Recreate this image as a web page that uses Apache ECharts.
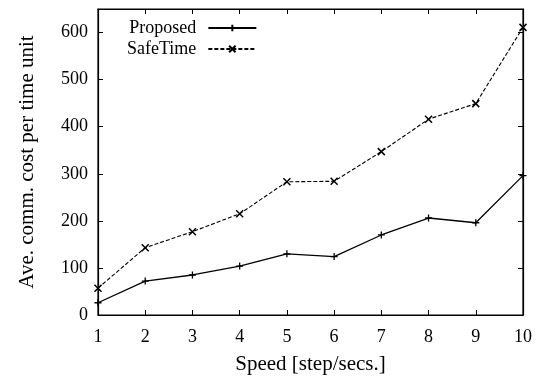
<!DOCTYPE html>
<html>
<head>
<meta charset="utf-8">
<script src="https://cdn.jsdelivr.net/npm/echarts@6/dist/echarts.min.js"></script>
<style>
  html, body { margin: 0; padding: 0; background: #fff; }
  #chart { width: 539px; height: 377px; }
</style>
</head>
<body>
<div id="chart"></div>
<script>
// Speed settings (step/secs.)
const speeds = [1, 2, 3, 4, 5, 6, 7, 8, 9, 10];
// Average communication cost per time unit
const proposed = [26, 72, 85, 104, 130, 124, 170, 206, 196, 296];
const safeTime = [57, 143, 177, 215, 283, 284, 347, 416, 449, 611];
const seriesNames = ['Proposed', 'SafeTime'];

const FONT = 'Liberation Serif';
const plus = 'path://M0,5 L10,5 M5,0 L5,10';
const cross = 'path://M0,0 L10,10 M10,0 L0,10';

const pair = (xs, ys) => xs.map((x, i) => [x, ys[i]]);

const tickStyle = { show: true, inside: true, length: 5, lineStyle: { color: '#000', width: 1 } };
const lineStyle = { show: true, onZero: false, lineStyle: { color: '#000', width: 1.2 } };

const chart = echarts.init(document.getElementById('chart'), null, { renderer: 'canvas' });
chart.setOption({
  animation: false,
  textStyle: { fontFamily: FONT },
  grid: { left: 98, right: 16, top: 9, bottom: 62, outerBoundsMode: 'none', containLabel: false,
    show: true, borderColor: '#000', borderWidth: 1.2, backgroundColor: 'transparent' },
  legend: {
    data: seriesNames,
    orient: 'vertical',
    left: 122,
    top: 14,
    align: 'right',
    itemWidth: 48,
    itemHeight: 8,
    itemGap: 3,
    textStyle: { fontFamily: FONT, fontSize: 18, lineHeight: 18, color: '#000',
      padding: [0, 7, 0, 0] }
  },
  xAxis: [
    {
      type: 'value', gridIndex: 0, min: 1, max: 10, interval: 1, position: 'bottom',
      name: 'Speed [step/secs.]', nameLocation: 'middle', nameGap: 39,
      nameTextStyle: { fontFamily: FONT, fontSize: 21, color: '#000' },
      axisLabel: { color: '#000', fontFamily: FONT, fontSize: 18, margin: 13 },
      axisLine: lineStyle, axisTick: tickStyle, splitLine: { show: false }
    },
    {
      type: 'value', gridIndex: 0, show: true, min: 1, max: 10, interval: 1, position: 'top',
      axisLabel: { show: true, color: '#000', formatter: () => '' },
      axisLine: lineStyle, axisTick: tickStyle, splitLine: { show: false }
    }
  ],
  yAxis: [
    {
      type: 'value', gridIndex: 0, min: 0, max: 650, interval: 100, position: 'left',
      name: 'Ave. comm. cost per time unit', nameLocation: 'middle', nameGap: 60,
      nameTextStyle: { fontFamily: FONT, fontSize: 21, color: '#000' },
      axisLabel: { color: '#000', fontFamily: FONT, fontSize: 18, margin: 10,
        showMaxLabel: false },
      axisLine: lineStyle, axisTick: tickStyle, splitLine: { show: false }
    },
    {
      type: 'value', gridIndex: 0, show: true, min: 0, max: 650, interval: 100, position: 'right',
      axisLabel: { show: true, color: '#000', formatter: () => '' },
      axisLine: lineStyle, axisTick: tickStyle, splitLine: { show: false }
    }
  ],
  series: [
    {
      name: seriesNames[0], type: 'line', data: pair(speeds, proposed),
      symbol: plus, symbolSize: 7, showAllSymbol: true,
      lineStyle: { color: '#000', width: 1.3, type: 'solid' },
      itemStyle: { color: '#000', borderColor: '#000', borderWidth: 1.3 }
    },
    {
      name: seriesNames[1], type: 'line', data: pair(speeds, safeTime),
      symbol: cross, symbolSize: 7, showAllSymbol: true,
      lineStyle: { color: '#000', width: 1.1, type: [4, 2] },
      itemStyle: { color: '#000', borderColor: '#000', borderWidth: 1.5 }
    }
  ]
});
</script>
</body>
</html>
